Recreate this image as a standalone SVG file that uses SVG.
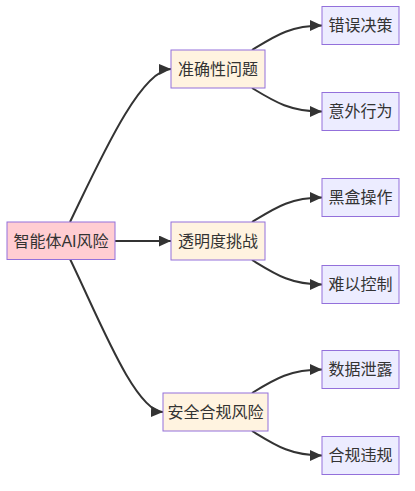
<svg xmlns="http://www.w3.org/2000/svg" width="415" height="491" viewBox="0 0 415 491">
<style>
.node rect{stroke:#9370DB;stroke-width:1}
.root rect{fill:#ffcdd2}
.mid rect{fill:#fff3e0}
.leaf rect{fill:#ECECFF}
text{font-family:"Liberation Sans","Noto Sans CJK SC",sans-serif;font-size:16px;fill:#333;text-anchor:middle;dominant-baseline:central}
.edges path{fill:none;stroke:#333;stroke-width:2;marker-end:url(#arrow)}
</style>
<defs>
<marker id="arrow" markerUnits="userSpaceOnUse" markerWidth="12" markerHeight="11" refX="12" refY="5.5" orient="auto">
<path d="M0,0 L12,5.5 L0,11 z" fill="#333"/>
</marker>
</defs>
<rect width="415" height="491" fill="#fff"/>
<g class="edges">
<path d="M70,222 C100,160 140,70 171,69"/>
<path d="M115,241 L171,241"/>
<path d="M70,259 C100,321 135,411 163,412"/>
<path d="M252,50 C275,36 290,25.5 322,25.5"/>
<path d="M252,88 C275,102 290,111.5 322,111.5"/>
<path d="M252,222 C275,208 290,197.5 322,197.5"/>
<path d="M252,260 C275,274 290,284.5 322,284.5"/>
<path d="M252,393 C275,379 290,369.5 322,369.5"/>
<path d="M252,431 C275,445 290,455.5 322,455.5"/>
</g>
<g id="n-root" class="node root"><rect x="7" y="222" width="108" height="37.5"/><text x="61" y="241">智能体AI风险</text></g>
<g id="n-accuracy" class="node mid"><rect x="171" y="50" width="94" height="38"/><text x="218" y="69">准确性问题</text></g>
<g id="n-transparency" class="node mid"><rect x="171" y="222" width="94" height="38"/><text x="218" y="241">透明度挑战</text></g>
<g id="n-compliance" class="node mid"><rect x="163" y="393" width="105" height="38"/><text x="215.5" y="412">安全合规风险</text></g>
<g id="n-wrong" class="node leaf"><rect x="322" y="6.5" width="77" height="38"/><text x="360.5" y="25.5">错误决策</text></g>
<g id="n-unexpected" class="node leaf"><rect x="322" y="92.5" width="77" height="38"/><text x="360.5" y="111.5">意外行为</text></g>
<g id="n-blackbox" class="node leaf"><rect x="322" y="178.5" width="77" height="38"/><text x="360.5" y="197.5">黑盒操作</text></g>
<g id="n-control" class="node leaf"><rect x="322" y="265.5" width="77" height="38"/><text x="360.5" y="284.5">难以控制</text></g>
<g id="n-leak" class="node leaf"><rect x="322" y="350.5" width="77" height="38"/><text x="360.5" y="369.5">数据泄露</text></g>
<g id="n-violation" class="node leaf"><rect x="322" y="436.5" width="77" height="38"/><text x="360.5" y="455.5">合规违规</text></g>
</svg>
